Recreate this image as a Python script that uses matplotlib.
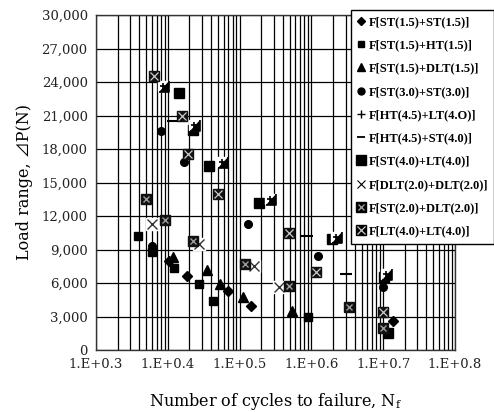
import numpy as np
import matplotlib
matplotlib.use("Agg")
import matplotlib.pyplot as plt
from matplotlib.path import Path
from matplotlib.lines import Line2D
from matplotlib.ticker import LogLocator, NullFormatter, FixedLocator, FixedFormatter

# ---- data (cycles to failure, load range in N) ----
labels = [
    "F[ST(1.5)+ST(1.5)]",
    "F[ST(1.5)+HT(1.5)]",
    "F[ST(1.5)+DLT(1.5)]",
    "F[ST(3.0)+ST(3.0)]",
    "F[HT(4.5)+LT(4.O)]",
    "F[HT(4.5)+ST(4.0)]",
    "F[ST(4.0)+LT(4.0)]",
    "F[DLT(2.0)+DLT(2.0)]",
    "F[ST(2.0)+DLT(2.0)]",
    "F[LT(4.0)+LT(4.0)]",
]

n_st15_st15 = [10390, 18340, 68300, 142800, 13560000]
p_st15_st15 = [7970, 6600, 5310, 3940, 2620]

n_st15_ht15 = [3846, 6083, 12200, 27200, 42200, 905000]
p_st15_ht15 = [10240, 8800, 7320, 5880, 4410, 2980]

n_st15_dlt15 = [11930, 34830, 53330, 110500, 531700]
p_st15_dlt15 = [8300, 7160, 5910, 4770, 3490]

n_st30_st30 = [8040, 16810, 5970, 132200, 1224000, 10030000]
p_st30_st30 = [19640, 16810, 9340, 11260, 8420, 5610]

n_ht45_lt40 = [8655, 23170, 56320, 265100, 2200000, 10940000]
p_ht45_lt40 = [23640, 20150, 16860, 13500, 10120, 6810]

n_ht45_st40 = [11930, 877000, 3004000]
p_ht45_st40 = [20510, 10210, 6780]

n_st40_lt40 = [14320, 22440, 37840, 188100, 1918000, 10260000, 11560000]
p_st40_lt40 = [22990, 19700, 16500, 13190, 9910, 6560, 1500]

n_dlt20_dlt20 = [6083, 27200, 158700, 353800]
p_dlt20_dlt20 = [11310, 9470, 7520, 5610]

n_st20_dlt20 = [4922, 9230, 22660, 118900, 487500, 3373000, 9840000]
p_st20_dlt20 = [13520, 11670, 9730, 7700, 5730, 3820, 1940]

n_lt40_lt40 = [6425, 15620, 19300, 50500, 487500, 1148000, 10030000]
p_lt40_lt40 = [24540, 20980, 17530, 13970, 10500, 6960, 3430]

x_ticks = [1e3, 1e4, 1e5, 1e6, 1e7, 1e8]
x_ticklabels = ["1.E+0.3", "1.E+0.4", "1.E+0.5", "1.E+0.6", "1.E+0.7", "1.E+0.8"]
y_ticks = list(range(0, 30001, 3000))
y_ticklabels = ["{:,}".format(v) for v in y_ticks]

# plus with a corner "shadow" marker
plus_corner = Path(
    [(-0.45, 0), (0.45, 0), (0, -0.45), (0, 0.45),
     (0.75, 0.7), (0.75, -0.75), (-0.6, -0.75)],
    [Path.MOVETO, Path.LINETO, Path.MOVETO, Path.LINETO,
     Path.MOVETO, Path.LINETO, Path.LINETO])

fig = plt.figure(figsize=(4.94, 4.12), dpi=100)
ax = fig.add_axes([96 / 494, 1 - 350 / 412, 359 / 494, 335 / 412])
ax.set_xscale("log")
ax.set_xlim(1e3, 1e8)
ax.set_ylim(0, 30000)

ax.xaxis.set_major_locator(FixedLocator(x_ticks))
ax.xaxis.set_major_formatter(FixedFormatter(x_ticklabels))
ax.xaxis.set_minor_locator(LogLocator(base=10, subs=np.arange(2, 10)))
ax.xaxis.set_minor_formatter(NullFormatter())
ax.set_yticks(y_ticks)
ax.set_yticklabels(y_ticklabels)

ax.grid(True, which="both", axis="x", color="black", lw=0.9)
ax.grid(True, which="major", axis="y", color="black", lw=0.9)
ax.set_axisbelow(True)
ax.tick_params(which="both", length=0, pad=6)
for lab in ax.get_xticklabels() + ax.get_yticklabels():
    lab.set_fontfamily("DejaVu Serif")
    lab.set_fontsize(9.5)
    lab.set_color("#222222")
for s in ax.spines.values():
    s.set_color("#333333")
    s.set_linewidth(1)

k = "black"
ax.plot(n_st15_st15, p_st15_st15, ls="none", marker="D", ms=5, color=k, zorder=3)
ax.plot(n_st15_ht15, p_st15_ht15, ls="none", marker="s", ms=5.5, color=k, zorder=3)
ax.plot(n_st15_dlt15, p_st15_dlt15, ls="none", marker="^", ms=6.5, color=k, zorder=3)
ax.plot(n_st30_st30, p_st30_st30, ls="none", marker="o", ms=5.5, color=k, zorder=3)
ax.plot(n_st40_lt40, p_st40_lt40, ls="none", marker="s", ms=7.5, color=k, zorder=3)
ax.plot(n_ht45_lt40, p_ht45_lt40, ls="none", marker="s", ms=7.5, color="white", zorder=4)
ax.plot(n_ht45_lt40, p_ht45_lt40, ls="none", marker=plus_corner, ms=8, mew=1.2,
        color=k, zorder=5)
ax.plot(n_ht45_st40, p_ht45_st40, ls="none", marker="_", ms=8, mew=1.5, color=k, zorder=3)
ax.plot(n_dlt20_dlt20, p_dlt20_dlt20, ls="none", marker="s", ms=8, color="white", zorder=3)
ax.plot(n_dlt20_dlt20, p_dlt20_dlt20, ls="none", marker="x", ms=6.5, mew=1, color="#333333", zorder=4)
ax.plot(n_st20_dlt20, p_st20_dlt20, ls="none", marker="s", ms=7.5, color="#111111", zorder=4)
ax.plot(n_st20_dlt20, p_st20_dlt20, ls="none", marker="x", ms=5, mew=1, color="#9a9a9a", zorder=5)
ax.plot(n_lt40_lt40, p_lt40_lt40, ls="none", marker="s", ms=7.5, color="#111111", zorder=4)
ax.plot(n_lt40_lt40, p_lt40_lt40, ls="none", marker="x", ms=6, mew=0.9, color="#cccccc", zorder=5)

ax.set_xlabel("Number of cycles to failure, N$_\\mathregular{f}$",
              family="DejaVu Serif", fontsize=11.5, labelpad=14)
ax.set_ylabel("Load range, \u22bfP(N)", family=["DejaVu Serif", "Noto Sans CJK JP"],
              fontsize=11.5, labelpad=6)

# legend handles
def mk(marker, ms, **kw):
    return Line2D([], [], ls="none", marker=marker, ms=ms, color="black", **kw)

handles = [
    mk("D", 4.5),
    mk("s", 5),
    mk("^", 5.5),
    mk("o", 5),
    mk("+", 6, mew=1),
    mk("_", 6, mew=1.3),
    mk("s", 7),
    mk("x", 5.5, mew=0.8),
    (mk("s", 7), Line2D([], [], ls="none", marker="x", ms=4.5, mew=1, color="#9a9a9a")),
    (mk("s", 7), Line2D([], [], ls="none", marker="x", ms=5.5, mew=0.9, color="#cccccc")),
]
leg = fig.legend(handles, labels, loc="upper left",
                 bbox_to_anchor=(351 / 494, 1 - 10 / 412), bbox_transform=fig.transFigure,
                 prop={"family": "Liberation Serif", "weight": "bold", "size": 9},
                 frameon=True, fancybox=False, framealpha=1, edgecolor="black",
                 handlelength=0.6, handletextpad=0.3, labelspacing=0.9,
                 borderpad=0.5, borderaxespad=0)
leg.get_frame().set_linewidth(1)

fig.savefig("out.png", dpi=100)
